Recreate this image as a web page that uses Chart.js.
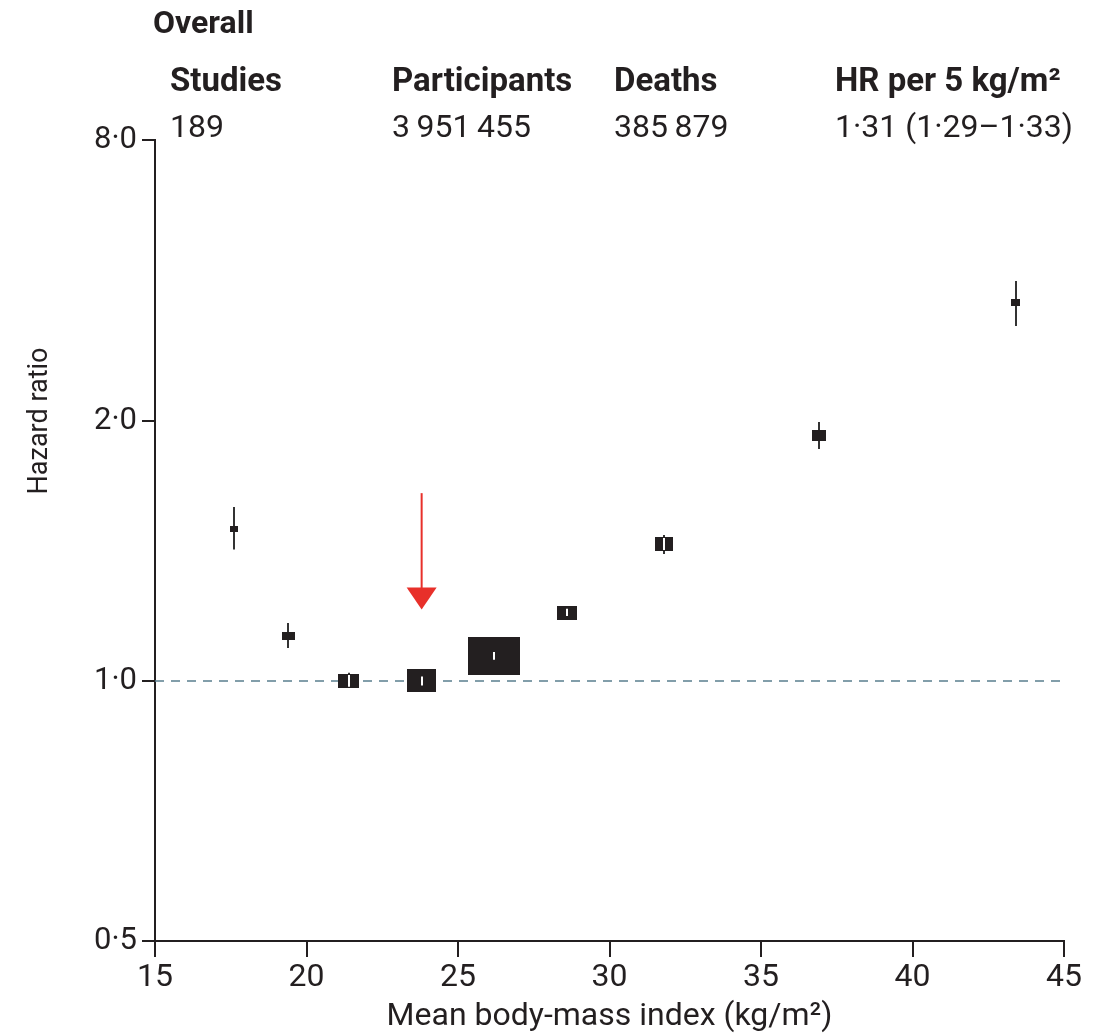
<!DOCTYPE html>
<html>
<head>
<meta charset="utf-8">
<script src="https://cdn.jsdelivr.net/npm/chart.js@4.4.1/dist/chart.umd.min.js"></script>
<style>
  html, body { margin: 0; padding: 0; background: #fff; }
  #wrap { width: 1107px; height: 1036px; }
</style>
</head>
<body>
<div id="wrap"><canvas id="hr-chart" width="1107" height="1036"></canvas></div>
<script>
// data
const bmi    = [17.6, 19.4, 21.4, 23.8, 26.2, 28.6, 31.8, 36.9, 43.4];
const hr     = [1.50, 1.127, 1.0, 1.0, 1.069, 1.20, 1.441, 1.925, 2.745];
const hrLow  = [1.42, 1.092, 0.985, 0.988, 1.058, 1.189, 1.403, 1.856, 2.576];
const hrHigh = [1.59, 1.167, 1.022, 1.012, 1.080, 1.212, 1.476, 1.995, 2.905];
const refBmi = 23.8;

const xTicks = [15, 20, 25, 30, 35, 40, 45];
const yTicks = [0.5, 1, 2, 4.23];
const yTickLabels = ['0·5', '1·0', '2·0', '8·0'];

const headLabels = ['Studies', 'Participants', 'Deaths', 'HR per 5 kg/m²'];
const headValues = ['189', '3\u2009951\u2009455', '385\u2009879', '1·31 (1·29–1·33)'];

// box sizes (px) roughly follow the precision of each estimate
const boxW = [8, 13, 21, 29, 52, 20, 18, 14, 9];
const boxH = [6, 8, 14, 23, 38, 14, 14, 11, 7];

const ink = '#231f20';
const face = 'Roboto, sans-serif';

function boxImage(w, h) {
  const c = document.createElement('canvas');
  c.width = w; c.height = h;
  const g = c.getContext('2d');
  g.fillStyle = ink;
  g.fillRect(0, 0, w, h);
  return c;
}

const forestPlugin = {
  id: 'forest',
  beforeDatasetsDraw(chart) {
    const { ctx, scales: { x, y } } = chart;
    ctx.save();
    ctx.strokeStyle = '#333';
    ctx.lineWidth = 2;
    bmi.forEach((b, i) => {
      const px = Math.round(x.getPixelForValue(b));
      ctx.beginPath();
      ctx.moveTo(px, y.getPixelForValue(hrLow[i]));
      ctx.lineTo(px, y.getPixelForValue(hrHigh[i]));
      ctx.stroke();
    });
    ctx.restore();
  },
  afterDatasetsDraw(chart) {
    const { ctx, scales: { x, y } } = chart;
    ctx.save();
    // white part of the CI line inside the big boxes
    ctx.strokeStyle = '#fff';
    ctx.lineWidth = 2;
    bmi.forEach((b, i) => {
      const px = Math.round(x.getPixelForValue(b));
      const py = y.getPixelForValue(hr[i]);
      const top = Math.max(y.getPixelForValue(hrHigh[i]), py - boxH[i] / 2 + 1);
      const bot = Math.min(y.getPixelForValue(hrLow[i]), py + boxH[i] / 2 - 1);
      if (boxW[i] > 16 && bot > top) {
        ctx.beginPath();
        ctx.moveTo(px, top);
        ctx.lineTo(px, bot);
        ctx.stroke();
      }
    });
    // red arrow pointing at the reference group
    const ax = x.getPixelForValue(refBmi);
    const y0 = y.getPixelForValue(1.65);
    const y1 = y.getPixelForValue(1.21);
    ctx.strokeStyle = '#e8302a';
    ctx.fillStyle = '#e8302a';
    ctx.lineWidth = 2;
    ctx.beginPath();
    ctx.moveTo(ax, y0);
    ctx.lineTo(ax, y1 - 20);
    ctx.stroke();
    ctx.beginPath();
    ctx.moveTo(ax - 15, y1 - 22);
    ctx.lineTo(ax + 15, y1 - 22);
    ctx.lineTo(ax, y1);
    ctx.closePath();
    ctx.fill();
    ctx.restore();
  },
  afterDraw(chart) {
    const { ctx, scales: { y } } = chart;
    const colX = [170, 392, 614, 835];
    ctx.save();
    ctx.fillStyle = ink;
    ctx.textBaseline = 'alphabetic';
    ctx.textAlign = 'left';
    ctx.font = 'bold 32px ' + face;
    ctx.fillText('Overall', 153, 33);
    ctx.font = 'bold 33px ' + face;
    headLabels.forEach((t, i) => ctx.fillText(t, colX[i], 91));
    ctx.font = '32px ' + face;
    headValues.forEach((t, i) => ctx.fillText(t, colX[i], 137));
    // y title sits level with the 2·0 tick, as in the original
    ctx.translate(40, y.getPixelForValue(2));
    ctx.rotate(-Math.PI / 2);
    ctx.textAlign = 'center';
    ctx.textBaseline = 'middle';
    ctx.font = '27px ' + face;
    ctx.fillText('Hazard ratio', 0, 0);
    ctx.restore();
  }
};

new Chart('hr-chart', {
  data: {
    datasets: [{
      type: 'scatter',
      data: bmi.map((b, i) => ({ x: b, y: hr[i] })),
      pointStyle: bmi.map((b, i) => boxImage(boxW[i], boxH[i])),
      pointRadius: 10,
      pointHoverRadius: 10
    }, {
      type: 'line',
      data: [{ x: 15, y: 1 }, { x: 45, y: 1 }],
      borderColor: '#5a7f8e',
      borderWidth: 1.5,
      borderDash: [9, 7],
      pointRadius: 0
    }]
  },
  options: {
    responsive: false,
    animation: false,
    events: [],
    layout: { padding: { top: 140, right: 43, left: 0, bottom: 0 } },
    plugins: { legend: { display: false }, tooltip: { enabled: false } },
    scales: {
      x: {
        type: 'linear',
        min: 15, max: 45,
        afterBuildTicks: s => { s.ticks = xTicks.map(v => ({ value: v })); },
        afterFit: s => { s.height = 95; },
        ticks: { color: ink, font: { family: face, size: 32 }, padding: 2, maxRotation: 0 },
        grid: { drawOnChartArea: false, drawTicks: true, tickLength: 16, color: ink, lineWidth: 2 },
        border: { display: true, color: ink, width: 2 },
        title: { display: true, text: 'Mean body-mass index (kg/m²)', color: ink,
                 font: { family: face, size: 32 }, padding: 0 }
      },
      y: {
        type: 'logarithmic',
        min: 0.5, max: 4.23,
        afterBuildTicks: s => { s.ticks = yTicks.map(v => ({ value: v })); },
        afterFit: s => { s.width = 155; },
        ticks: { color: ink, font: { family: face, size: 31 }, padding: 5,
                 callback: (v, i) => yTickLabels[i] },
        grid: { drawOnChartArea: false, drawTicks: true, tickLength: 13, color: ink, lineWidth: 2 },
        border: { display: true, color: ink, width: 2 }
      }
    }
  },
  plugins: [forestPlugin]
});
</script>
</body>
</html>
